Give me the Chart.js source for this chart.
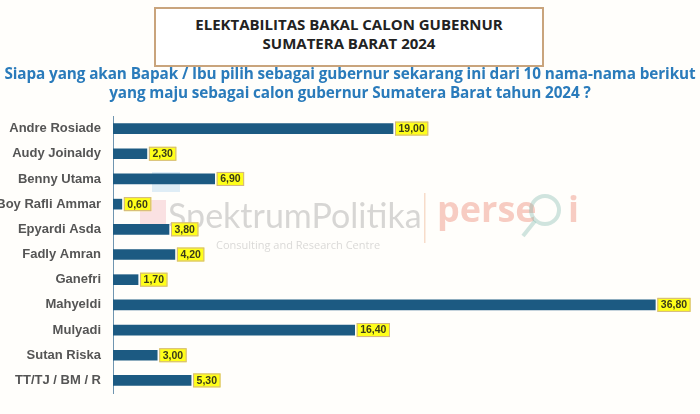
<!DOCTYPE html>
<html>
<head>
<meta charset="utf-8">
<script src="https://cdn.jsdelivr.net/npm/chart.js@4.4.1/dist/chart.umd.min.js"></script>
<style>
  html, body { margin: 0; padding: 0; background: #fffefb; }
  .wrap { position: relative; width: 700px; height: 414px; overflow: hidden; }
  .titleBox {
    position: absolute; left: 154px; top: 7px; width: 386px; height: 50px;
    border: 2px solid #c9a47c; background: #fff;
    font-family: "Open Sans", sans-serif; font-weight: 700; font-size: 15px;
    color: #222; text-align: center; line-height: 19px; padding-top: 6px; box-sizing: content-box;
  }
  .question {
    position: absolute; left: 0; top: 64px; width: 700px;
    font-family: "Open Sans", sans-serif; font-weight: 700; font-size: 15.3px;
    color: #2a7bbb; text-align: center; line-height: 19px; letter-spacing: -0.1px;
  }
  canvas { position: absolute; left: 0; top: 0; }
</style>
</head>
<body>
<div class="wrap">
  <canvas id="myChart" width="700" height="414"></canvas>
  <div class="titleBox">ELEKTABILITAS BAKAL CALON GUBERNUR<br>SUMATERA BARAT 2024</div>
  <div class="question">Siapa yang akan Bapak / Ibu pilih sebagai gubernur sekarang ini dari 10 nama-nama berikut<br>yang maju sebagai calon gubernur Sumatera Barat tahun 2024 ?</div>
</div>
<script>
const candidates = ["Andre Rosiade", "Audy Joinaldy", "Benny Utama", "Boy Rafli Ammar", "Epyardi Asda",
    "Fadly Amran", "Ganefri", "Mahyeldi", "Mulyadi", "Sutan Riska", "TT/TJ / BM / R"];
const percentages = [19.00, 2.30, 6.90, 0.60, 3.80, 4.20, 1.70, 36.80, 16.40, 3.00, 5.30];

// faint logos behind the bars
const watermark = {
    id: 'watermark',
    beforeDatasetsDraw(chart) {
        const ctx = chart.ctx;
        ctx.save();
        // little logo square
        ctx.fillStyle = 'rgba(150,200,235,0.3)';
        ctx.fillRect(152, 172, 28, 20);
        ctx.fillStyle = 'rgba(240,160,170,0.3)';
        ctx.fillRect(140, 200, 26, 28);
        ctx.fillStyle = 'rgba(150,150,150,0.38)';
        ctx.font = '34px "Lato", sans-serif';
        ctx.textBaseline = 'alphabetic';
        ctx.fillText('SpektrumPolitika', 168, 228);
        ctx.font = '11px "Open Sans", sans-serif';
        ctx.fillStyle = 'rgba(150,150,150,0.35)';
        ctx.fillText('Consulting and Research Centre', 216, 249);
        ctx.fillStyle = 'rgba(235,170,130,0.4)';
        ctx.fillRect(424, 193, 1.5, 50);
        ctx.fillStyle = 'rgba(235,130,110,0.4)';
        ctx.font = 'bold 36px "Open Sans", sans-serif';
        ctx.fillText('perse', 437, 222);
        ctx.fillText('i', 568, 222);
        ctx.strokeStyle = 'rgba(120,180,170,0.35)';
        ctx.lineWidth = 4;
        ctx.beginPath();
        ctx.arc(545, 210, 14, 0, Math.PI * 2);
        ctx.stroke();
        ctx.beginPath();
        ctx.moveTo(535, 221);
        ctx.lineTo(523, 236);
        ctx.stroke();
        ctx.restore();
    }
};

// yellow boxes with the value after each bar
const valueBoxes = {
    id: 'valueBoxes',
    afterDatasetsDraw(chart) {
        const ctx = chart.ctx;
        const meta = chart.getDatasetMeta(0);
        ctx.save();
        ctx.font = 'bold 10.5px "Liberation Sans", Arial, sans-serif';
        ctx.textBaseline = 'middle';
        meta.data.forEach((bar, i) => {
            const txt = percentages[i].toFixed(2).replace('.', ',');
            const w = ctx.measureText(txt).width + 7;
            const x = bar.x + 2;
            const y = bar.y - 7;
            ctx.fillStyle = '#ffff1a';
            ctx.fillRect(x, y, w, 14);
            ctx.strokeStyle = '#d2b48c';
            ctx.lineWidth = 1;
            ctx.strokeRect(x + 0.5, y + 0.5, w - 1, 13);
            ctx.fillStyle = '#3a3a1a';
            ctx.fillText(txt, x + 3.5, y + 7.5);
        });
        ctx.restore();
    }
};

const ctx = document.getElementById('myChart').getContext('2d');
const chart = new Chart(ctx, {
    type: 'bar',
    data: {
        labels: candidates,
        datasets: [{
            data: percentages,
            backgroundColor: '#1c5a82',
            barThickness: 10
        }]
    },
    options: {
        indexAxis: 'y',
        responsive: false,
        animation: false,
        layout: { padding: { top: 116, bottom: 21, left: 0, right: 27 } },
        plugins: { legend: { display: false }, tooltip: { enabled: false } },
        scales: {
            x: { display: false, min: 0, max: 38 },
            y: {
                afterFit(scale) { scale.width = 113; },
                grid: { display: false, drawTicks: false },
                border: { display: true, color: '#6f95b0', width: 1 },
                ticks: {
                    padding: 12,
                    color: '#555',
                    font: { family: '"Liberation Sans", Arial, sans-serif', weight: 'bold', size: 13 }
                }
            }
        }
    },
    plugins: [watermark, valueBoxes]
});
</script>
</body>
</html>
